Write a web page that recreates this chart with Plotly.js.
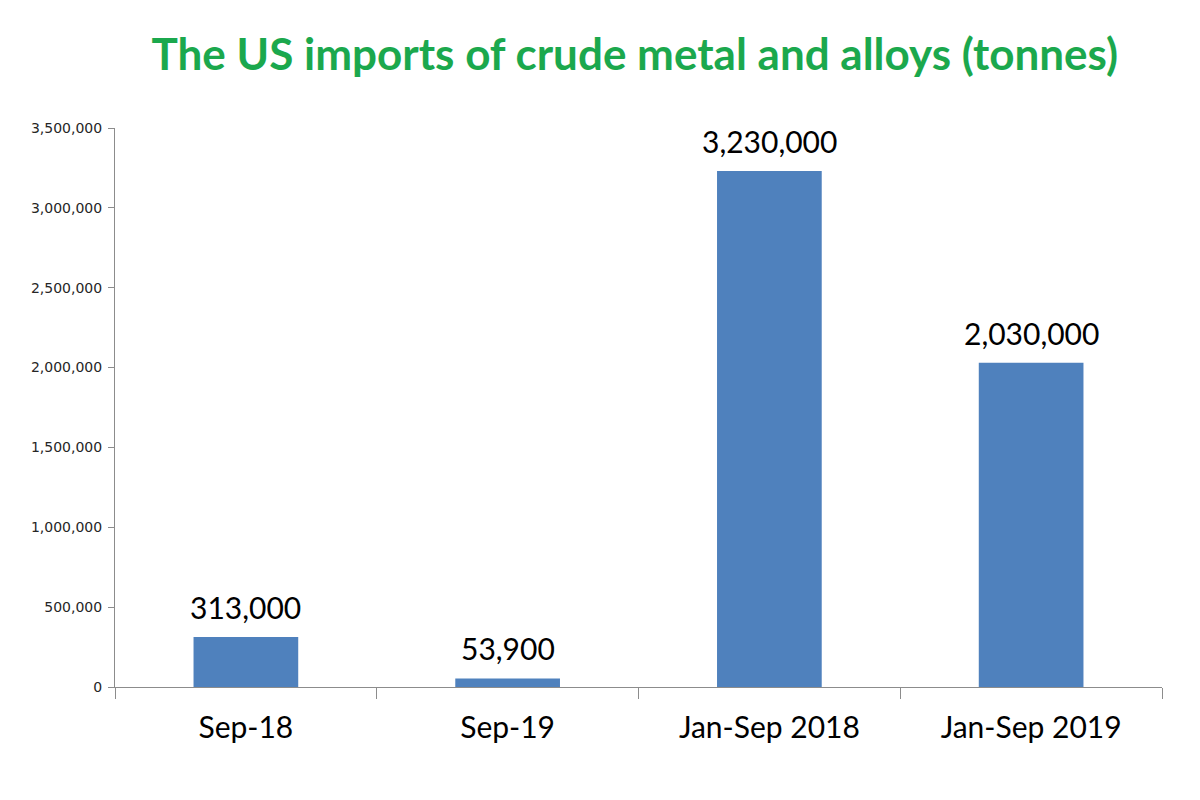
<!DOCTYPE html>
<html>
<head>
<meta charset="utf-8">
<script src="https://cdn.plot.ly/plotly-3.0.1.min.js"></script>
<style>html,body{margin:0;padding:0;background:#fff;}#chart{width:1200px;height:800px;}</style>
</head>
<body>
<div id="chart"></div>
<script>
const categories = ["Sep-18", "Sep-19", "Jan-Sep 2018", "Jan-Sep 2019"];
const values = [313000, 53900, 3230000, 2030000];
const valueLabels = ["313,000", "53,900", "3,230,000", "2,030,000"];
const yTicks = [0, 500000, 1000000, 1500000, 2000000, 2500000, 3000000, 3500000];

const trace = {
  type: "bar",
  x: categories,
  y: values,
  width: 0.4,
  marker: {color: "#4F81BD"},
  hoverinfo: "x+y"
};

const annotations = categories.map((c, i) => ({
  x: c, y: values[i], xref: "x", yref: "y",
  text: valueLabels[i], showarrow: false,
  yanchor: "bottom", yshift: 10,
  font: {family: "Lato, sans-serif", size: 30, color: "#000000"}
}));

const layout = {
  width: 1200, height: 800,
  paper_bgcolor: "#ffffff", plot_bgcolor: "#ffffff",
  margin: {l: 115, r: 38, t: 128, b: 113},
  showlegend: false,
  title: {
    text: "<b>The US imports of crude metal and alloys (tonnes)</b>",
    font: {family: "Lato, sans-serif", size: 44, color: "#1BA84D"},
    xref: "container", yref: "container", x: 0.529, y: 0.932,
    xanchor: "center", yanchor: "middle"
  },
  xaxis: {
    type: "category",
    showline: true, linecolor: "#8C8C8C", linewidth: 1,
    ticks: "outside", tickson: "boundaries", ticklen: 11, tickcolor: "#8C8C8C",
    ticklabelstandoff: 14,
    showgrid: false, zeroline: false,
    tickfont: {family: "Lato, sans-serif", size: 30, color: "#000000"}
  },
  yaxis: {
    range: [0, 3500000],
    tickvals: yTicks, tickformat: ",d",
    showline: true, linecolor: "#8C8C8C", linewidth: 1,
    ticks: "outside", ticklen: 6, tickcolor: "#8C8C8C",
    ticklabelstandoff: 3,
    showgrid: false, zeroline: false,
    tickfont: {family: "DejaVu Sans, sans-serif", size: 14, color: "#262626"}
  },
  annotations: annotations
};

Plotly.newPlot("chart", [trace], layout, {displayModeBar: false, staticPlot: false});
</script>
</body>
</html>
